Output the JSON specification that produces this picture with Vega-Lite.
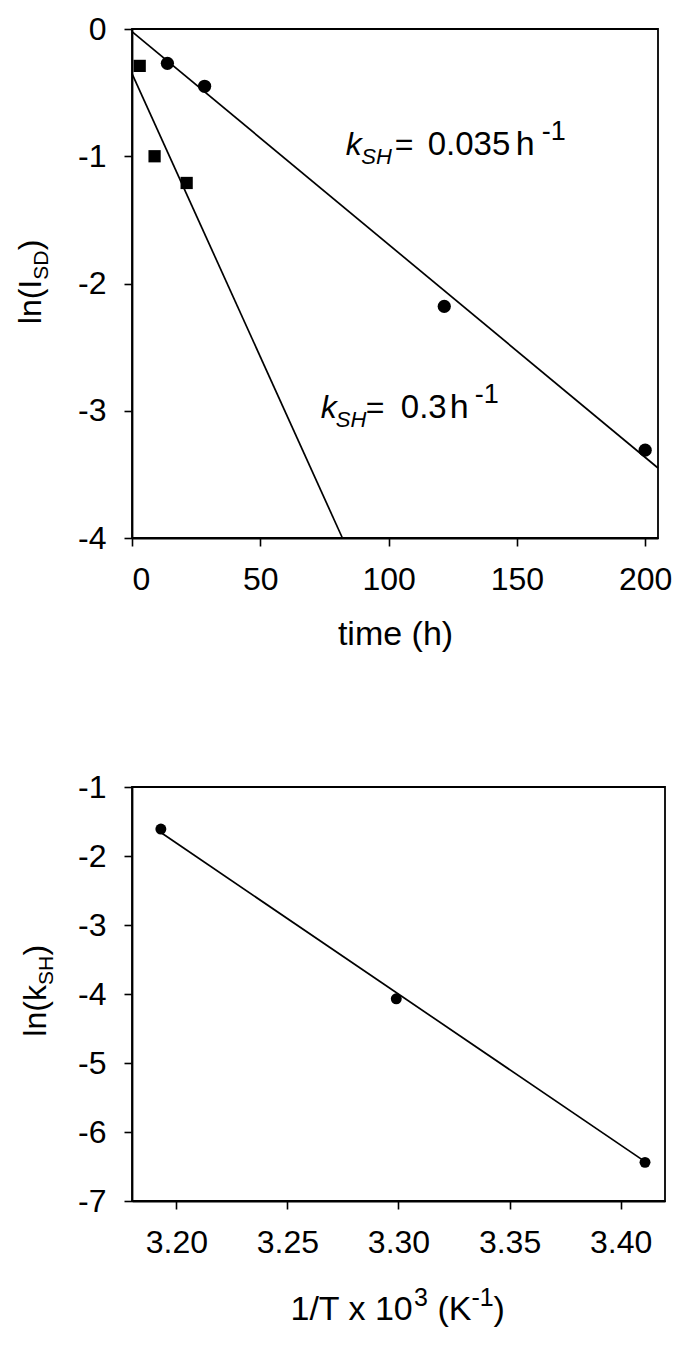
{
  "$schema": "https://vega.github.io/schema/vega-lite/v6.json",
  "background": "white",
  "padding": {"top": 12, "left": 14, "right": 5, "bottom": 5},
  "spacing": 118,
  "config": {
    "font": "Liberation Sans",
    "view": {"stroke": "black", "strokeWidth": 1.8},
    "axis": {
      "grid": false,
      "domainColor": "black", "domainWidth": 1.8,
      "tickColor": "black", "tickWidth": 1.6, "tickSize": 8,
      "labelColor": "black", "labelFont": "Liberation Sans", "labelFontSize": 32, "labelPadding": 18,
      "titleColor": "black", "titleFont": "Liberation Sans", "titleFontSize": 34, "titleFontWeight": "normal",
      "labelExpr": "replace(datum.label, '−', '-')"
    }
  },
  "vconcat": [
    {
      "width": 526,
      "height": 509,
      "layer": [
        {
          "data": {"values": [
            {"fit": "slow", "time": 0, "ln": -0.02},
            {"fit": "slow", "time": 205, "ln": -3.45},
            {"fit": "fast", "time": 0, "ln": -0.35},
            {"fit": "fast", "time": 82, "ln": -4}
          ]},
          "mark": {"type": "line", "color": "black", "strokeWidth": 1.7},
          "encoding": {
            "x": {"field": "time", "type": "quantitative",
                  "scale": {"domain": [0, 205], "nice": false, "zero": false},
                  "axis": {"values": [0, 50, 100, 150, 200], "format": "d", "title": "time (h)", "titlePadding": 22}},
            "y": {"field": "ln", "type": "quantitative",
                  "scale": {"domain": [-4, 0], "nice": false},
                  "axis": {"values": [0, -1, -2, -3, -4], "format": "d", "title": null}},
            "detail": {"field": "fit", "type": "nominal"}
          }
        },
        {
          "data": {"values": [
            {"series": "circle", "time": 13.8, "ln": -0.27},
            {"series": "circle", "time": 28.3, "ln": -0.45},
            {"series": "circle", "time": 121.7, "ln": -2.18},
            {"series": "circle", "time": 200, "ln": -3.31},
            {"series": "square", "time": 3.0, "ln": -0.29},
            {"series": "square", "time": 8.8, "ln": -1.0},
            {"series": "square", "time": 21.3, "ln": -1.21}
          ]},
          "mark": {"type": "point", "filled": true, "color": "black", "opacity": 1},
          "encoding": {
            "x": {"field": "time", "type": "quantitative"},
            "y": {"field": "ln", "type": "quantitative"},
            "shape": {"field": "series", "type": "nominal",
                      "scale": {"domain": ["circle", "square"], "range": ["circle", "square"]},
                      "legend": null},
            "size": {"field": "series", "type": "nominal",
                     "scale": {"domain": ["circle", "square"], "range": [175, 150]},
                     "legend": null}
          }
        },
        {"data": {"values": [{}]}, "mark": {"type": "text", "text": "k", "fontStyle": "italic", "fontSize": 32, "align": "left", "baseline": "alphabetic", "color": "black"}, "encoding": {"x": {"datum": 83.3}, "y": {"datum": -0.99}}},
        {"data": {"values": [{}]}, "mark": {"type": "text", "text": "SH", "fontStyle": "italic", "fontSize": 22, "align": "left", "baseline": "alphabetic", "dx": 15.5, "dy": 9, "color": "black"}, "encoding": {"x": {"datum": 83.3}, "y": {"datum": -0.99}}},
        {"data": {"values": [{}]}, "mark": {"type": "text", "text": "=", "fontSize": 32, "align": "left", "baseline": "alphabetic", "dx": 49, "color": "black"}, "encoding": {"x": {"datum": 83.3}, "y": {"datum": -0.99}}},
        {"data": {"values": [{}]}, "mark": {"type": "text", "text": "0.035", "fontSize": 33, "align": "left", "baseline": "alphabetic", "dx": 82, "color": "black"}, "encoding": {"x": {"datum": 83.3}, "y": {"datum": -0.99}}},
        {"data": {"values": [{}]}, "mark": {"type": "text", "text": "h", "fontSize": 34, "align": "left", "baseline": "alphabetic", "dx": 170, "color": "black"}, "encoding": {"x": {"datum": 83.3}, "y": {"datum": -0.99}}},
        {"data": {"values": [{}]}, "mark": {"type": "text", "text": "-1", "fontSize": 27, "align": "left", "baseline": "alphabetic", "dx": 196, "dy": -15, "color": "black"}, "encoding": {"x": {"datum": 83.3}, "y": {"datum": -0.99}}},
        {"data": {"values": [{}]}, "mark": {"type": "text", "text": "k", "fontStyle": "italic", "fontSize": 32, "align": "left", "baseline": "alphabetic", "color": "black"}, "encoding": {"x": {"datum": 73.6}, "y": {"datum": -3.06}}},
        {"data": {"values": [{}]}, "mark": {"type": "text", "text": "SH", "fontStyle": "italic", "fontSize": 22, "align": "left", "baseline": "alphabetic", "dx": 15, "dy": 9, "color": "black"}, "encoding": {"x": {"datum": 73.6}, "y": {"datum": -3.06}}},
        {"data": {"values": [{}]}, "mark": {"type": "text", "text": "=", "fontSize": 32, "align": "left", "baseline": "alphabetic", "dx": 45, "color": "black"}, "encoding": {"x": {"datum": 73.6}, "y": {"datum": -3.06}}},
        {"data": {"values": [{}]}, "mark": {"type": "text", "text": "0.3", "fontSize": 33, "align": "left", "baseline": "alphabetic", "dx": 80, "color": "black"}, "encoding": {"x": {"datum": 73.6}, "y": {"datum": -3.06}}},
        {"data": {"values": [{}]}, "mark": {"type": "text", "text": "h", "fontSize": 34, "align": "left", "baseline": "alphabetic", "dx": 129, "color": "black"}, "encoding": {"x": {"datum": 73.6}, "y": {"datum": -3.06}}},
        {"data": {"values": [{}]}, "mark": {"type": "text", "text": "-1", "fontSize": 27, "align": "left", "baseline": "alphabetic", "dx": 154, "dy": -15, "color": "black"}, "encoding": {"x": {"datum": 73.6}, "y": {"datum": -3.06}}},
        {"data": {"values": [{}]}, "mark": {"type": "text", "text": "ln(I", "fontSize": 32, "angle": 270, "align": "left", "baseline": "alphabetic", "dx": -44.4, "color": "black"}, "encoding": {"x": {"datum": -35.5}, "y": {"datum": -1.971}}},
        {"data": {"values": [{}]}, "mark": {"type": "text", "text": "SD", "fontSize": 21, "angle": 270, "align": "left", "baseline": "alphabetic", "dx": 0, "dy": 7, "color": "black"}, "encoding": {"x": {"datum": -35.5}, "y": {"datum": -1.971}}},
        {"data": {"values": [{}]}, "mark": {"type": "text", "text": ")", "fontSize": 32, "angle": 270, "align": "left", "baseline": "alphabetic", "dx": 29.5, "color": "black"}, "encoding": {"x": {"datum": -35.5}, "y": {"datum": -1.971}}}
      ]
    },
    {
      "width": 533,
      "height": 414,
      "layer": [
        {
          "data": {"values": [
            {"invT": 3.193, "lnk": -1.66},
            {"invT": 3.411, "lnk": -6.43}
          ]},
          "mark": {"type": "line", "color": "black", "strokeWidth": 1.7},
          "encoding": {
            "x": {"field": "invT", "type": "quantitative",
                  "scale": {"domain": [3.18, 3.42], "nice": false, "zero": false},
                  "axis": {"values": [3.2, 3.25, 3.3, 3.35, 3.4], "format": ".2f", "title": null}},
            "y": {"field": "lnk", "type": "quantitative",
                  "scale": {"domain": [-7, -1], "nice": false, "zero": false},
                  "axis": {"values": [-1, -2, -3, -4, -5, -6, -7], "format": "d", "title": null}}
          }
        },
        {
          "data": {"values": [
            {"invT": 3.193, "lnk": -1.61},
            {"invT": 3.299, "lnk": -4.07},
            {"invT": 3.411, "lnk": -6.44}
          ]},
          "mark": {"type": "point", "shape": "circle", "filled": true, "color": "black", "opacity": 1, "size": 120},
          "encoding": {
            "x": {"field": "invT", "type": "quantitative"},
            "y": {"field": "lnk", "type": "quantitative"}
          }
        },
        {"data": {"values": [{}]}, "mark": {"type": "text", "text": "ln(k", "fontSize": 32, "angle": 270, "align": "left", "baseline": "alphabetic", "dx": -51.6, "color": "black"}, "encoding": {"x": {"datum": 3.1413}, "y": {"datum": -3.87}}},
        {"data": {"values": [{}]}, "mark": {"type": "text", "text": "SH", "fontSize": 21, "angle": 270, "align": "left", "baseline": "alphabetic", "dx": 0, "dy": 7, "color": "black"}, "encoding": {"x": {"datum": 3.1413}, "y": {"datum": -3.87}}},
        {"data": {"values": [{}]}, "mark": {"type": "text", "text": ")", "fontSize": 32, "angle": 270, "align": "left", "baseline": "alphabetic", "dx": 29.5, "color": "black"}, "encoding": {"x": {"datum": 3.1413}, "y": {"datum": -3.87}}},
        {"data": {"values": [{}]}, "mark": {"type": "text", "text": "1/T x 10", "fontSize": 34, "align": "left", "baseline": "alphabetic", "dx": -108, "color": "black"}, "encoding": {"x": {"datum": 3.30}, "y": {"datum": -8.72}}},
        {"data": {"values": [{}]}, "mark": {"type": "text", "text": "3", "fontSize": 25, "align": "left", "baseline": "alphabetic", "dx": 15.5, "dy": -14, "color": "black"}, "encoding": {"x": {"datum": 3.30}, "y": {"datum": -8.72}}},
        {"data": {"values": [{}]}, "mark": {"type": "text", "text": "(K", "fontSize": 34, "align": "left", "baseline": "alphabetic", "dx": 39, "color": "black"}, "encoding": {"x": {"datum": 3.30}, "y": {"datum": -8.72}}},
        {"data": {"values": [{}]}, "mark": {"type": "text", "text": "-1", "fontSize": 25, "align": "left", "baseline": "alphabetic", "dx": 73, "dy": -14, "color": "black"}, "encoding": {"x": {"datum": 3.30}, "y": {"datum": -8.72}}},
        {"data": {"values": [{}]}, "mark": {"type": "text", "text": ")", "fontSize": 34, "align": "left", "baseline": "alphabetic", "dx": 95, "color": "black"}, "encoding": {"x": {"datum": 3.30}, "y": {"datum": -8.72}}}
      ]
    }
  ]
}
